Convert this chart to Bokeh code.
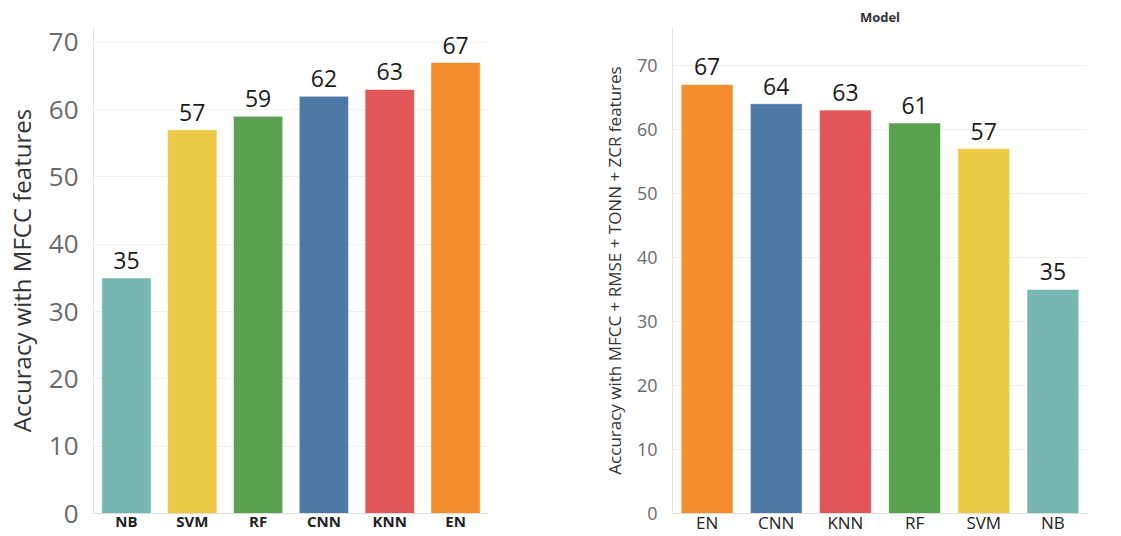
from bokeh.plotting import figure
from bokeh.layouts import row
from bokeh.models import ColumnDataSource, Range1d, FixedTicker, LabelSet
from bokeh.core.properties import value
from bokeh.embed import file_html
from bokeh.resources import INLINE

# Accuracy per model, MFCC features only
models_mfcc = ["NB", "SVM", "RF", "CNN", "KNN", "EN"]
acc_mfcc = [35, 57, 59, 62, 63, 67]

# Accuracy per model, MFCC + RMSE + TONN + ZCR features
models_all = ["EN", "CNN", "KNN", "RF", "SVM", "NB"]
acc_all = [67, 64, 63, 61, 57, 35]

y_ticks = [0, 10, 20, 30, 40, 50, 60, 70]

model_colors = {
    "NB": "#76B7B2",
    "SVM": "#EDC948",
    "RF": "#59A14F",
    "CNN": "#4E79A7",
    "KNN": "#E15759",
    "EN": "#F28E2B",
}

FONT = "Open Sans"


def bar_panel(models, acc, width, height, y_top, borders, ylabel,
              ytick_size, ylabel_size, xlabel_size, xlabel_style, title=None):
    src = ColumnDataSource(dict(
        model=models,
        acc=acc,
        color=[model_colors[m] for m in models],
        txt=[str(a) for a in acc],
    ))
    left, right, top, bottom = borders
    p = figure(
        x_range=models, y_range=Range1d(0, y_top),
        width=width, height=height,
        output_backend="svg", toolbar_location=None,
        min_border_left=left, min_border_right=right,
        min_border_top=top, min_border_bottom=bottom,
        title=title,
    )
    p.outline_line_color = None
    p.background_fill_color = "white"
    p.border_fill_color = "white"

    p.vbar(x="model", top="acc", width=0.75, source=src,
           fill_color="color", line_color="white", line_width=0.6)

    labels = LabelSet(x="model", y="acc", text="txt", source=src,
                      text_align="center", text_baseline="alphabetic",
                      y_offset=9, text_font=value(FONT),
                      text_font_size="23px", text_color="#1a1a1a")
    p.add_layout(labels)

    p.xgrid.grid_line_color = None
    p.ygrid.grid_line_color = "#efefef"
    p.ygrid.ticker = FixedTicker(ticks=y_ticks)

    ya = p.yaxis[0]
    ya.ticker = FixedTicker(ticks=y_ticks)
    ya.axis_label = ylabel
    ya.axis_label_text_font = FONT
    ya.axis_label_text_font_style = "normal"
    ya.axis_label_text_font_size = ylabel_size
    ya.axis_label_text_color = "#333333"
    ya.axis_label_standoff = 8
    ya.major_label_text_font = FONT
    ya.major_label_text_font_size = ytick_size
    ya.major_label_text_color = "#6a6a6a"
    ya.major_label_standoff = 9
    ya.major_tick_line_color = None
    ya.minor_tick_line_color = None
    ya.axis_line_color = "#e4e4e4"

    xa = p.xaxis[0]
    xa.major_label_text_font = FONT
    xa.major_label_text_font_size = xlabel_size
    xa.major_label_text_font_style = xlabel_style
    xa.major_label_text_color = "#222222"
    xa.major_label_standoff = -3
    xa.major_tick_line_color = None
    xa.major_tick_out = 0
    xa.axis_line_color = "#dddddd"
    return p


# Frames in a row share top/bottom edges, so the left range top is set to
# keep its 0-70 scale where it belongs under the shared frame top.
p1 = bar_panel(models_mfcc, acc_mfcc, 560, 536, 72.2, (93, 72, 27, 23),
               "Accuracy with MFCC features", "26px", "24px", "15px", "bold")

p2 = bar_panel(models_all, acc_all, 561, 536, 75.9, (112, 34, 27, 23),
               "Accuracy with MFCC + RMSE + TONN + ZCR features",
               "18px", "17px", "17px", "normal", title="Model")
p2.title.align = "center"
p2.title.text_font = FONT
p2.title.text_font_size = "13px"
p2.title.text_font_style = "bold"
p2.title.text_color = "#333333"
p2.title.standoff = 3

layout = row(p1, p2, spacing=0)

open("out.html", "w").write(file_html(layout, INLINE))
